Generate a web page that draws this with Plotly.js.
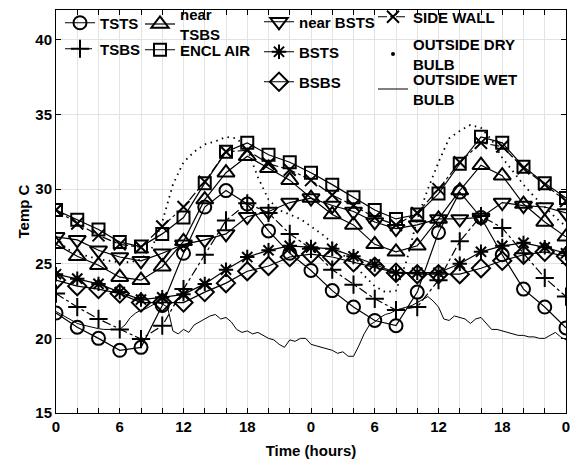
<!DOCTYPE html>
<html>
<head>
<meta charset="utf-8">
<script src="https://cdn.plot.ly/plotly-3.0.1.min.js"></script>
<style>html,body{margin:0;padding:0;background:#fff;}#chart{width:579px;height:461px;}</style>
</head>
<body>
<div id="chart"></div>
<script>
// Hours of the marker series (every 2 h over 48 h)
const hours2 = [0,2,4,6,8,10,12,14,16,18,20,22,24,26,28,30,32,34,36,38,40,42,44,46,48];
const hours1 = [0,1,2,3,4,5,6,7,8,9,10,11,12,13,14,15,16,17,18,19,20,21,22,23,24,25,26,27,28,29,30,31,32,33,34,35,36,37,38,39,40,41,42,43,44,45,46,47,48];
const hoursHalf = [0,0.5,1,1.5,2,2.5,3,3.5,4,4.5,5,5.5,6,6.5,7,7.5,8,8.5,9,9.5,10,10.5,11,11.5,12,12.5,13,13.5,14,14.5,15,15.5,16,16.5,17,17.5,18,18.5,19,19.5,20,20.5,21,21.5,22,22.5,23,23.5,24,24.5,25,25.5,26,26.5,27,27.5,28,28.5,29,29.5,30,30.5,31,31.5,32,32.5,33,33.5,34,34.5,35,35.5,36,36.5,37,37.5,38,38.5,39,39.5,40,40.5,41,41.5,42,42.5,43,43.5,44,44.5,45,45.5,46,46.5,47,47.5,48];

const tsts     = [21.7,20.75,20.0,19.2,19.4,22.2,25.7,28.8,29.9,29.0,27.2,25.7,24.55,23.2,22.1,21.2,20.85,23.1,27.1,29.8,28.1,25.6,23.3,22.1,20.7];
const tsbs     = [23.0,22.1,21.3,20.6,19.95,20.85,23.3,25.6,27.9,29.05,28.4,27.0,26.0,24.6,23.6,22.65,21.9,22.1,23.9,26.5,28.2,27.4,25.7,24.05,22.8];
const nearTsbs = [26.3,25.5,24.9,24.1,23.9,24.8,26.5,29.3,31.1,32.2,31.4,30.6,29.4,28.3,27.6,26.3,25.8,26.2,28.0,29.9,31.6,30.9,29.0,27.8,26.8];
const enclAir  = [28.6,27.95,27.3,26.45,26.15,27.0,28.1,30.4,32.5,33.1,32.3,31.8,31.1,30.3,29.45,28.6,28.0,28.3,29.7,31.7,33.5,33.1,31.5,30.4,29.4];
const nearBsts = [26.8,26.6,25.9,25.45,25.2,25.7,26.3,26.6,27.0,28.15,28.5,29.1,29.4,28.9,28.5,27.8,27.35,27.6,28.0,28.0,28.1,29.1,28.9,28.8,28.4];
const bsts     = [24.3,24.0,23.65,23.1,22.6,22.75,22.95,23.65,24.6,25.45,25.9,26.2,26.1,26.0,25.5,24.95,24.4,24.4,24.4,25.0,25.8,26.2,26.4,26.1,25.7];
const bsbs     = [23.9,23.5,23.3,23.0,22.4,22.4,22.4,23.1,23.7,24.5,24.85,25.45,25.65,25.45,25.1,24.8,24.4,24.3,24.3,24.3,24.7,25.2,25.6,25.8,25.5];
const sideWall = [28.6,27.7,26.9,26.3,26.1,27.5,28.8,30.5,32.5,32.6,31.7,31.3,30.6,29.6,28.9,28.1,27.6,28.4,30.0,31.8,33.1,32.85,31.4,30.3,29.2];
const dryBulb  = [26.8,26.0,25.7,25.5,25.3,25.2,25.1,25.1,25.3,26.0,27.8,30.3,31.8,32.5,33.0,33.2,33.5,33.4,32.7,30.8,29.3,28.6,28.3,28.0,27.5,27.0,26.4,25.6,25.0,24.2,23.5,23.1,23.2,25.2,28.0,30.0,31.8,33.4,33.9,34.3,34.1,33.3,32.1,31.2,30.3,29.5,28.8,28.1,27.5];
const wetBulb  = [21.8,21.6,21.4,21.2,21.0,20.9,20.8,20.7,20.65,20.6,20.6,20.55,20.6,20.9,21.4,21.7,21.9,22.0,22.2,22.4,22.3,22.1,20.5,20.3,20.6,20.4,20.9,21.1,21.3,21.5,21.6,21.3,21.4,21.1,20.6,20.4,20.5,20.3,20.4,20.2,20.0,19.9,19.6,19.4,19.9,19.8,20.0,20.0,19.6,19.5,19.4,19.3,19.2,19.0,19.1,18.8,18.8,19.5,20.3,20.9,21.1,21.4,21.6,21.7,21.9,22.0,22.1,22.2,22.4,22.6,22.8,22.5,22.1,21.3,21.2,21.5,21.4,21.3,21.0,21.3,21.4,21.0,20.6,20.6,20.5,20.4,20.3,20.2,20.2,20.1,20.1,20.0,20.0,20.2,20.4,20.1,19.9];

const xTickVals = [0,2,4,6,8,10,12,14,16,18,20,22,24,26,28,30,32,34,36,38,40,42,44,46,48];
const xTickText = ['0','','','6','','','12','','','18','','','0','','','6','','','12','','','18','','','0'];
const yTickVals = [15,20,25,30,35,40];

const FONT = 'Liberation Sans, Arial, Helvetica, sans-serif';
const blk = '#000';

function ms(sym, size) {
  return {symbol: sym, size: size, color: blk, line: {color: blk, width: 2}};
}

const traces = [
  {name:'TSTS', x:hours2, y:tsts, mode:'lines+markers', line:{color:blk,width:1.2}, marker:ms('circle-open',13), legend:'legend'},
  {name:'TSBS', x:hours2, y:tsbs, mode:'lines+markers', line:{color:blk,width:1.2,dash:'dashdot'}, marker:ms('cross-thin-open',13), legend:'legend2'},
  {name:'near<br>TSBS', x:hours2, y:nearTsbs, mode:'lines+markers', line:{color:blk,width:1.2}, marker:ms('triangle-up-open',15), legend:'legend3'},
  {name:'ENCL AIR', x:hours2, y:enclAir, mode:'lines+markers', line:{color:blk,width:1.2}, marker:ms('square-open',12), legend:'legend4'},
  {name:'near BSTS', x:hours2, y:nearBsts, mode:'lines+markers', line:{color:blk,width:1.2}, marker:ms('triangle-down-open',15), legend:'legend5'},
  {name:'BSTS', x:hours2, y:bsts, mode:'lines+markers', line:{color:blk,width:1.2}, marker:ms('asterisk-open',12), legend:'legend6'},
  {name:'BSBS', x:hours2, y:bsbs, mode:'lines+markers', line:{color:blk,width:1.2}, marker:ms('diamond-open',14), legend:'legend7'},
  {name:'SIDE WALL', x:hours2, y:sideWall, mode:'lines+markers', line:{color:blk,width:1.2,dash:'dashdot'}, marker:ms('x-thin-open',12), legend:'legend8'},
  {name:'OUTSIDE DRY<br>BULB', x:hours1, y:dryBulb, mode:'lines', line:{color:blk,width:1.8,dash:'1.5px,4.5px'}, showlegend:false},
  {name:'OUTSIDE DRY<br>BULB', x:[null], y:[null], mode:'markers', marker:{symbol:'circle',size:4,color:blk}, legend:'legend9'},
  {name:'OUTSIDE WET<br>BULB', x:hoursHalf, y:wetBulb, mode:'lines', line:{color:blk,width:1}, legend:'legend10'}
];

const W = 579, H = 461;
const L = 56, R = 13, T = 10, B = 48;
const pw = W - L - R, ph = H - T - B;
function lg(markerX, centerY) {
  return {
    x: (markerX - 20 - L) / pw, y: (H - B - centerY) / ph,
    xanchor: 'left', yanchor: 'middle',
    bgcolor: 'rgba(0,0,0,0)', borderwidth: 0, itemwidth: 30,
    font: {family: FONT, size: 15, weight: 'bold', color: blk}
  };
}

const layout = {
  width: W, height: H,
  margin: {l: L, r: R, t: T, b: B, pad: 0, autoexpand: false},
  paper_bgcolor: '#fff', plot_bgcolor: '#fff',
  font: {family: FONT, size: 15, weight: 'bold', color: blk},
  xaxis: {
    range: [0, 48], tickmode: 'array', tickvals: xTickVals, ticktext: xTickText,
    ticks: 'inside', ticklen: 5, tickcolor: blk, mirror: 'ticks',
    showline: true, linecolor: blk, linewidth: 1,
    showgrid: true, gridcolor: '#e3e3e3', gridwidth: 1, zeroline: false,
    tickfont: {family: FONT, size: 15, weight: 'bold', color: blk},
    title: {text: 'Time (hours)', font: {family: FONT, size: 15, weight: 'bold', color: blk}, standoff: 11}
  },
  yaxis: {
    range: [15, 42], tickmode: 'array', tickvals: yTickVals,
    ticks: 'inside', ticklen: 5, tickcolor: blk, mirror: 'ticks',
    showline: true, linecolor: blk, linewidth: 1,
    showgrid: true, gridcolor: '#e3e3e3', gridwidth: 1, zeroline: false,
    tickfont: {family: FONT, size: 15, weight: 'bold', color: blk},
    title: {text: 'Temp C', font: {family: FONT, size: 15, weight: 'bold', color: blk}, standoff: 2}
  },
  showlegend: true,
  legend: lg(80, 23),
  legend2: lg(80, 49),
  legend3: lg(160, 24),
  legend4: lg(160, 50),
  legend5: lg(279, 22),
  legend6: lg(279, 52),
  legend7: lg(279, 82),
  legend8: lg(393, 17),
  legend9: lg(393, 54),
  legend10: lg(393, 89)
};

Plotly.newPlot('chart', traces, layout, {displayModeBar: false, staticPlot: true});
</script>
</body>
</html>
